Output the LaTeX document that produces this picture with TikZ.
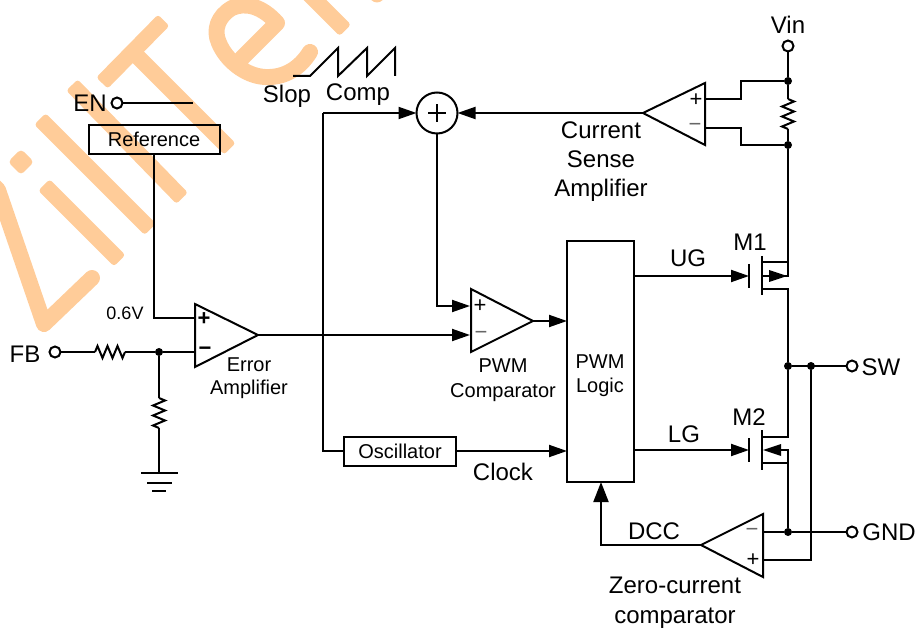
\documentclass[tikz,border=0pt]{standalone}
\usepackage{fontspec}
\setmainfont{Liberation Sans}
\usetikzlibrary{arrows.meta}
\definecolor{wm}{HTML}{FFCC99}
\tikzset{
  wire/.style={line width=2pt,line join=miter,black},
  arr/.style={wire,-{Triangle[length=18pt,width=12pt]}},
  arrbig/.style={wire,-{Triangle[length=20pt,width=15pt]}},
  wmark/.style={wm,line width=16pt,line cap=round,line join=round},
  wmbar/.style={wm,fill=wm,line width=6pt,line join=round},
  term/.style={circle,draw,line width=2pt,fill=white,minimum size=11pt,inner sep=0pt,outer sep=0pt},
  dot/.style={circle,fill=black,minimum size=8pt,inner sep=0pt,outer sep=0pt},
  box/.style={draw,line width=2pt,inner sep=0pt,outer sep=0pt},
  lab/.style={inner sep=0pt,outer sep=0pt,align=center,font=\fontsize{24}{29}\selectfont},
  labs/.style={inner sep=0pt,outer sep=0pt,align=center,font=\fontsize{20}{24.5}\selectfont},
  sign/.style={inner sep=0pt,outer sep=0pt,font=\fontsize{22}{22}\selectfont},
  signg/.style={sign,text=black!60},
  signb/.style={sign,font=\bfseries\fontsize{22}{22}\selectfont},
  res/.pic={\draw[wire] (0,0)--(2.5,-6)--(7.5,6)--(12.5,-6)--(17.5,6)--(22.5,-6)--(27.5,6)--(30,0);}
}
\begin{document}
\begin{tikzpicture}[x=1pt,y=-1pt]
\useasboundingbox (0,0) rectangle (916,628);
% watermark
\begin{scope}
\clip (0,0) rectangle (916,628);
\draw[wmark] (-20,172)--(-2,190)--(44,324)--(92,278);
\fill[wm,rounded corners=4pt] (21,149)--(34,162)--(21,175)--(8,162)--cycle;
\draw[wmbar,shift={(44,185)},rotate=-45] (3,-5) rectangle (104,5);
\draw[wmbar,shift={(40,119)},rotate=-45] (3,-5) rectangle (153,5);
\draw[wmbar,shift={(72,85)},rotate=-45.8] (3,-5) rectangle (155,5);
\draw[wmbar,shift={(102,83)},rotate=45.5] (3,-5) rectangle (85,5);
\draw[wmbar,shift={(133,52)},rotate=-45] (3,-5) rectangle (134,5);
\draw[wmark] (242,58)--(277,23) .. controls (262,6) and (245,2) .. (232,8)
  .. controls (218,16) and (213,30) .. (219,43)
  .. controls (226,60) and (245,76) .. (265,77)
  .. controls (285,78) and (300,68) .. (310,52);
\draw[wmbar,shift={(300,-15)},rotate=-45] (3,-5) rectangle (61,5);
\fill[wm] (377,-5) circle (7.5);
\end{scope}
% coordinates
\coordinate (r1a) at (95,352);
\coordinate (r1b) at (125,352);
\coordinate (r2a) at (159,398);
\coordinate (r2b) at (159,428);
\coordinate (r3a) at (788,99);
\coordinate (r3b) at (788,129);
\coordinate (ea1) at (195,304); \coordinate (ea2) at (195,367); \coordinate (eao) at (258,335);
\coordinate (ep) at (195,318); \coordinate (em) at (195,352);
\coordinate (pc1) at (471,289); \coordinate (pc2) at (471,352); \coordinate (pco) at (533,321);
\coordinate (pp) at (470,306); \coordinate (pm) at (470,335);
\coordinate (ca1) at (705,83); \coordinate (ca2) at (705,145); \coordinate (cao) at (643,113);
\coordinate (zc1) at (763,514); \coordinate (zc2) at (763,577); \coordinate (zco) at (701,545);
\coordinate (gnda) at (159,473);
\coordinate (saw) at (293,76);
% blocks
\node[box,minimum width=131pt,minimum height=29pt,labs] (ref) at (154,139.5) {Reference};
\node[box,minimum width=112pt,minimum height=29pt,labs] (osc) at (400,451) {Oscillator};
\node[box,minimum width=67pt,minimum height=241pt] (logic) at (600.5,361.5) {};
\node[labs] (logict) at (600,375.5) {PWM\\Logic};
\node[circle,draw,line width=2pt,minimum size=41pt,inner sep=0pt,outer sep=0pt] (sum) at (437,113) {};
\draw[wire] ([xshift=-9pt]sum.center)--([xshift=9pt]sum.center);
\draw[wire] ([yshift=-9pt]sum.center)--([yshift=9pt]sum.center);
% terminals
\node[term] (en) at (117,103) {};
\node[term] (fb) at (55,352) {};
\node[term] (vin) at (788,46) {};
\node[term] (sw) at (852,366) {};
\node[term] (gnd) at (852,532) {};
% dots
\node[dot] (d1) at (159,352) {};
\node[dot] (d2) at (788,81) {};
\node[dot] (d3) at (788,145) {};
\node[dot] (d4) at (788,366) {};
\node[dot] (d5) at (811,366) {};
\node[dot] (d6) at (788,532) {};
% amps
\draw[wire,line join=miter] (ea1)--(eao)--(ea2)--cycle;
\draw[wire,line join=miter] (pc1)--(pco)--(pc2)--cycle;
\draw[wire,line join=miter] (ca1)--(cao)--(ca2)--cycle;
\draw[wire,line join=miter] (zc1)--(zco)--(zc2)--cycle;
\node[signb] (ea+) at (204,319) {+};
\node[signb] (ea-) at (205,351) {−};
\node[sign] (pc+) at (480,306) {+};
\node[signg] (pc-) at (481,335) {−};
\node[sign] (ca+) at (696,100) {+};
\node[signg] (ca-) at (695,127) {−};
\node[signg] (zc-) at (752,532) {−};
\node[sign] (zc+) at (753,560) {+};
% left part
\draw[wire] (en)--(193,103);
\draw[wire] (ref.south)--(ref.south|-ep)--(ep);
\draw[wire] (fb)--(r1a);
\pic at (r1a) {res};
\draw[wire] (r1b)--(d1)--(em);
\draw[wire] (d1)--(r2a);
\pic[rotate=-90] at (r2a) {res};
\draw[wire] (r2b)--(gnda);
\draw[wire] (141,473)--(178,473);
\draw[wire] (147,483)--(172,483);
\draw[wire] (152,491)--(166,491);
% saw
\draw[wire,line join=miter] (saw)--(310,76)--(338,48)--(338,76)--(367,48)--(367,76)--(395,48)--(395,76);
% signal paths
\draw[arr] (eao)--(pm);
\draw[arr] (sum.south)--(sum.south|-pp)--(pp);
\draw[arr] (pco)--(pco-|logic.west);
\draw[arr] (osc.east)--(osc.east-|logic.west);
\draw[wire] (osc.west)--(323,451)--(323,113);
\draw[arr] (323,113)--(sum.west);
\draw[arr] (cao)--(sum.east);
\draw[arrbig] (zco)--(601,545)--(601,482);
% current sense
\draw[wire] (vin)--(d2)--(r3a);
\pic[rotate=-90] at (r3a) {res};
\draw[wire] (r3b)--(d3);
\draw[wire] (705,99)--(741,99)--(741,81)--(d2);
\draw[wire] (705,128)--(741,128)--(741,145)--(d3);
% M1
\coordinate (m1gate) at (749,276);
\draw[arr] (634,276)--(m1gate);
\draw[wire] (749,264)--(749,288);
\draw[wire] (762,256)--(762,295);
\draw[wire] (d3)--(788,276)--(769,276)--(762,276);
\draw[wire] (762,262)--(788,262);
\draw[wire] (762,289)--(788,289)--(d4);
\fill (787,276)--(769,270)--(769,282)--cycle;
% M2
\coordinate (m2gate) at (749,450);
\draw[arr] (634,450)--(m2gate);
\draw[wire] (749,438)--(749,462);
\draw[wire] (762,430)--(762,470);
\draw[wire] (d4)--(788,437)--(762,437);
\draw[wire] (762,463)--(788,463);
\draw[wire] (781,450)--(788,450)--(d6);
\fill (763,450)--(781,444)--(781,456)--cycle;
% output
\draw[wire] (d4)--(sw);
\draw[wire] (d5)--(811,560)--(763,560);
\draw[wire] (763,532)--(d6)--(gnd);
% labels
\node[lab] (tvin) at (788,25) {Vin};
\node[lab] (tslop) at (287,96) {Slop};
\node[lab] (tcomp) at (358,95) {Comp};
\node[lab] (ten) at (90,103) {EN};
\node[lab] (tfb) at (25,354) {FB};
\node[lab] (tcsa) at (601,162) {Current\\Sense\\Amplifier};
\node[lab] (tug) at (688,258) {UG};
\node[lab] (tlg) at (684,434) {LG};
\node[lab] (tm1) at (750,242) {M1};
\node[lab] (tm2) at (749,417) {M2};
\node[lab] (tsw) at (881,367) {SW};
\node[lab] (tgnd) at (889,532) {GND};
\node[lab] (tdcc) at (654,531) {DCC};
\node[lab] (tclk) at (503,472) {Clock};
\node[lab,font=\fontsize{24}{30}\selectfont] (tzc) at (675,602.5) {Zero-current\\comparator};
\node[labs,font=\fontsize{18}{18}\selectfont] (t06) at (125,313) {0.6V};
\node[labs,font=\fontsize{20}{23}\selectfont] (tea) at (249,378.5) {Error\\Amplifier};
\node[labs,font=\fontsize{20}{25}\selectfont] (tpc) at (503,380.5) {PWM\\Comparator};
\end{tikzpicture}
\end{document}
